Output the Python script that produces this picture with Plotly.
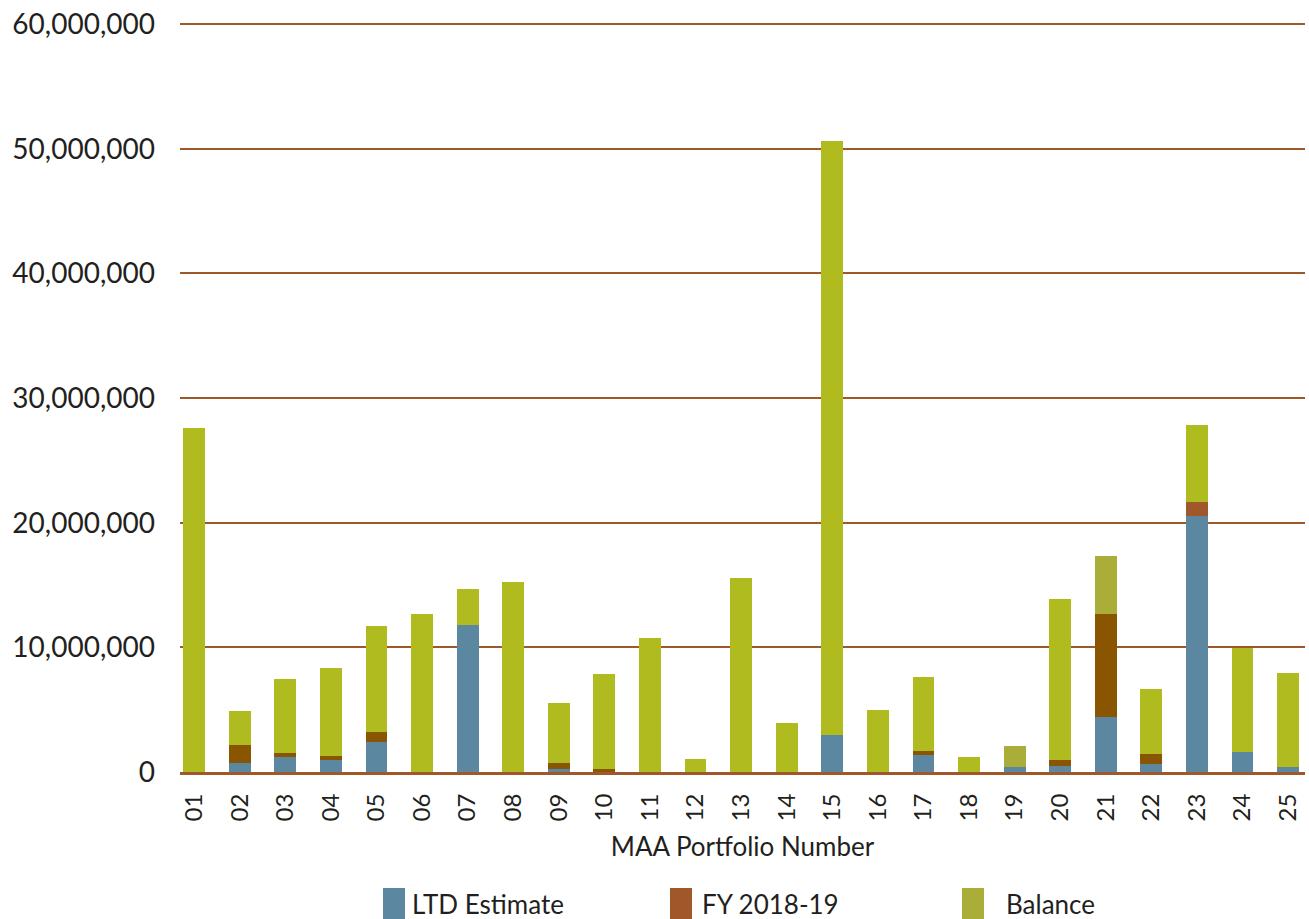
import plotly.graph_objects as go

categories = ["01","02","03","04","05","06","07","08","09","10","11","12","13",
              "14","15","16","17","18","19","20","21","22","23","24","25"]

# stacked segment sizes
ltd_estimate = [0, 0.72e6, 1.2e6, 0.96e6, 2.4e6, 0, 11.78e6, 0, 0.22e6, 0, 0, 0, 0,
                0, 2.96e6, 0, 1.36e6, 0, 0.4e6, 0.48e6, 4.4e6, 0.64e6, 20.5e6, 1.6e6, 0.4e6]
fy_2018_19 = [0, 1.44e6, 0.32e6, 0.32e6, 0.8e6, 0, 0, 0, 0.5e6, 0.24e6, 0, 0, 0,
              0, 0, 0, 0.32e6, 0, 0, 0.48e6, 8.26e6, 0.8e6, 1.2e6, 0, 0]
balance = [27.6e6, 2.73e6, 5.93e6, 7.05e6, 8.5e6, 12.66e6, 2.88e6, 15.22e6, 4.81e6, 7.61e6,
           10.74e6, 1.04e6, 15.6e6, 3.93e6, 47.64e6, 4.97e6, 5.92e6, 1.2e6, 1.68e6, 12.9e6,
           4.64e6, 5.21e6, 6.1e6, 8.34e6, 7.53e6]

y_ticks = [0, 10e6, 20e6, 30e6, 40e6, 50e6, 60e6]
y_tick_text = ["0", "10,000,000", "20,000,000", "30,000,000", "40,000,000", "50,000,000", "60,000,000"]

series_names = ["LTD Estimate", "FY 2018-19", "Balance"]

C_LTD = "#5b87a0"
C_FY_DARK = "#8a5500"
C_FY = "#a0572a"
C_BAL = "#b0bb1f"
C_BAL2 = "#aaae38"

fy_colors = [C_FY if c == "23" else C_FY_DARK for c in categories]
bal_colors = [C_BAL2 if c in ("19", "21") else C_BAL for c in categories]

FONT = "Lato"
TXT = "#231f20"

fig = go.Figure()
fig.add_trace(go.Bar(x=categories, y=ltd_estimate, name=series_names[0],
                     marker=dict(color=C_LTD, line=dict(width=0)), width=0.48))
fig.add_trace(go.Bar(x=categories, y=fy_2018_19, name=series_names[1],
                     marker=dict(color=fy_colors, line=dict(width=0)), width=0.48))
fig.add_trace(go.Bar(x=categories, y=balance, name=series_names[2],
                     marker=dict(color=bal_colors, line=dict(width=0)), width=0.48))

W, H = 1309, 919
PL, PR, PT, PB = 180, 1305, 21, 772
PW, PH = PR - PL, PB - PT

# manual legend (large square swatches like the reference)
legend_items = [(series_names[0], C_LTD, 383, 410), (series_names[1], C_FY, 670, 700),
                (series_names[2], C_BAL2, 962, 1004)]
shapes = []
annotations = []
for name, col, px, tx in legend_items:
    shapes.append(dict(type="rect", xref="paper", yref="paper",
                       x0=(px - PL) / PW, x1=(px + 22 - PL) / PW,
                       y0=(PB - 919) / PH, y1=(PB - 888) / PH,
                       fillcolor=col, line=dict(width=0)))
    annotations.append(dict(text=name, xref="paper", yref="paper",
                            x=(tx - PL) / PW, y=(PB - 904) / PH,
                            xanchor="left", yanchor="middle", showarrow=False,
                            font=dict(family=FONT, size=26, color=TXT)))

fig.update_layout(
    width=W, height=H,
    margin=dict(l=PL, r=W - PR, t=PT, b=H - PB),
    paper_bgcolor="white", plot_bgcolor="white",
    barmode="stack",
    showlegend=False,
    shapes=shapes,
    annotations=annotations,
    font=dict(family=FONT, color=TXT),
    xaxis=dict(
        type="category", range=[-0.31, 24.37],
        tickangle=-90, tickfont=dict(family=FONT, size=24, color=TXT),
        showgrid=False, showline=True, linecolor=C_FY, linewidth=3,
        ticks="", ticklabelstandoff=9,
        title=dict(text="MAA Portfolio Number", font=dict(family=FONT, size=26, color=TXT), standoff=18),
    ),
    yaxis=dict(
        range=[0, 60.25e6], tickvals=y_ticks, ticktext=y_tick_text,
        tickfont=dict(family=FONT, size=28, color=TXT),
        showgrid=True, gridcolor=C_FY, gridwidth=2,
        zeroline=False, showline=False, ticks="", ticklabelstandoff=24,
    ),
)

fig.write_html("out.html")
